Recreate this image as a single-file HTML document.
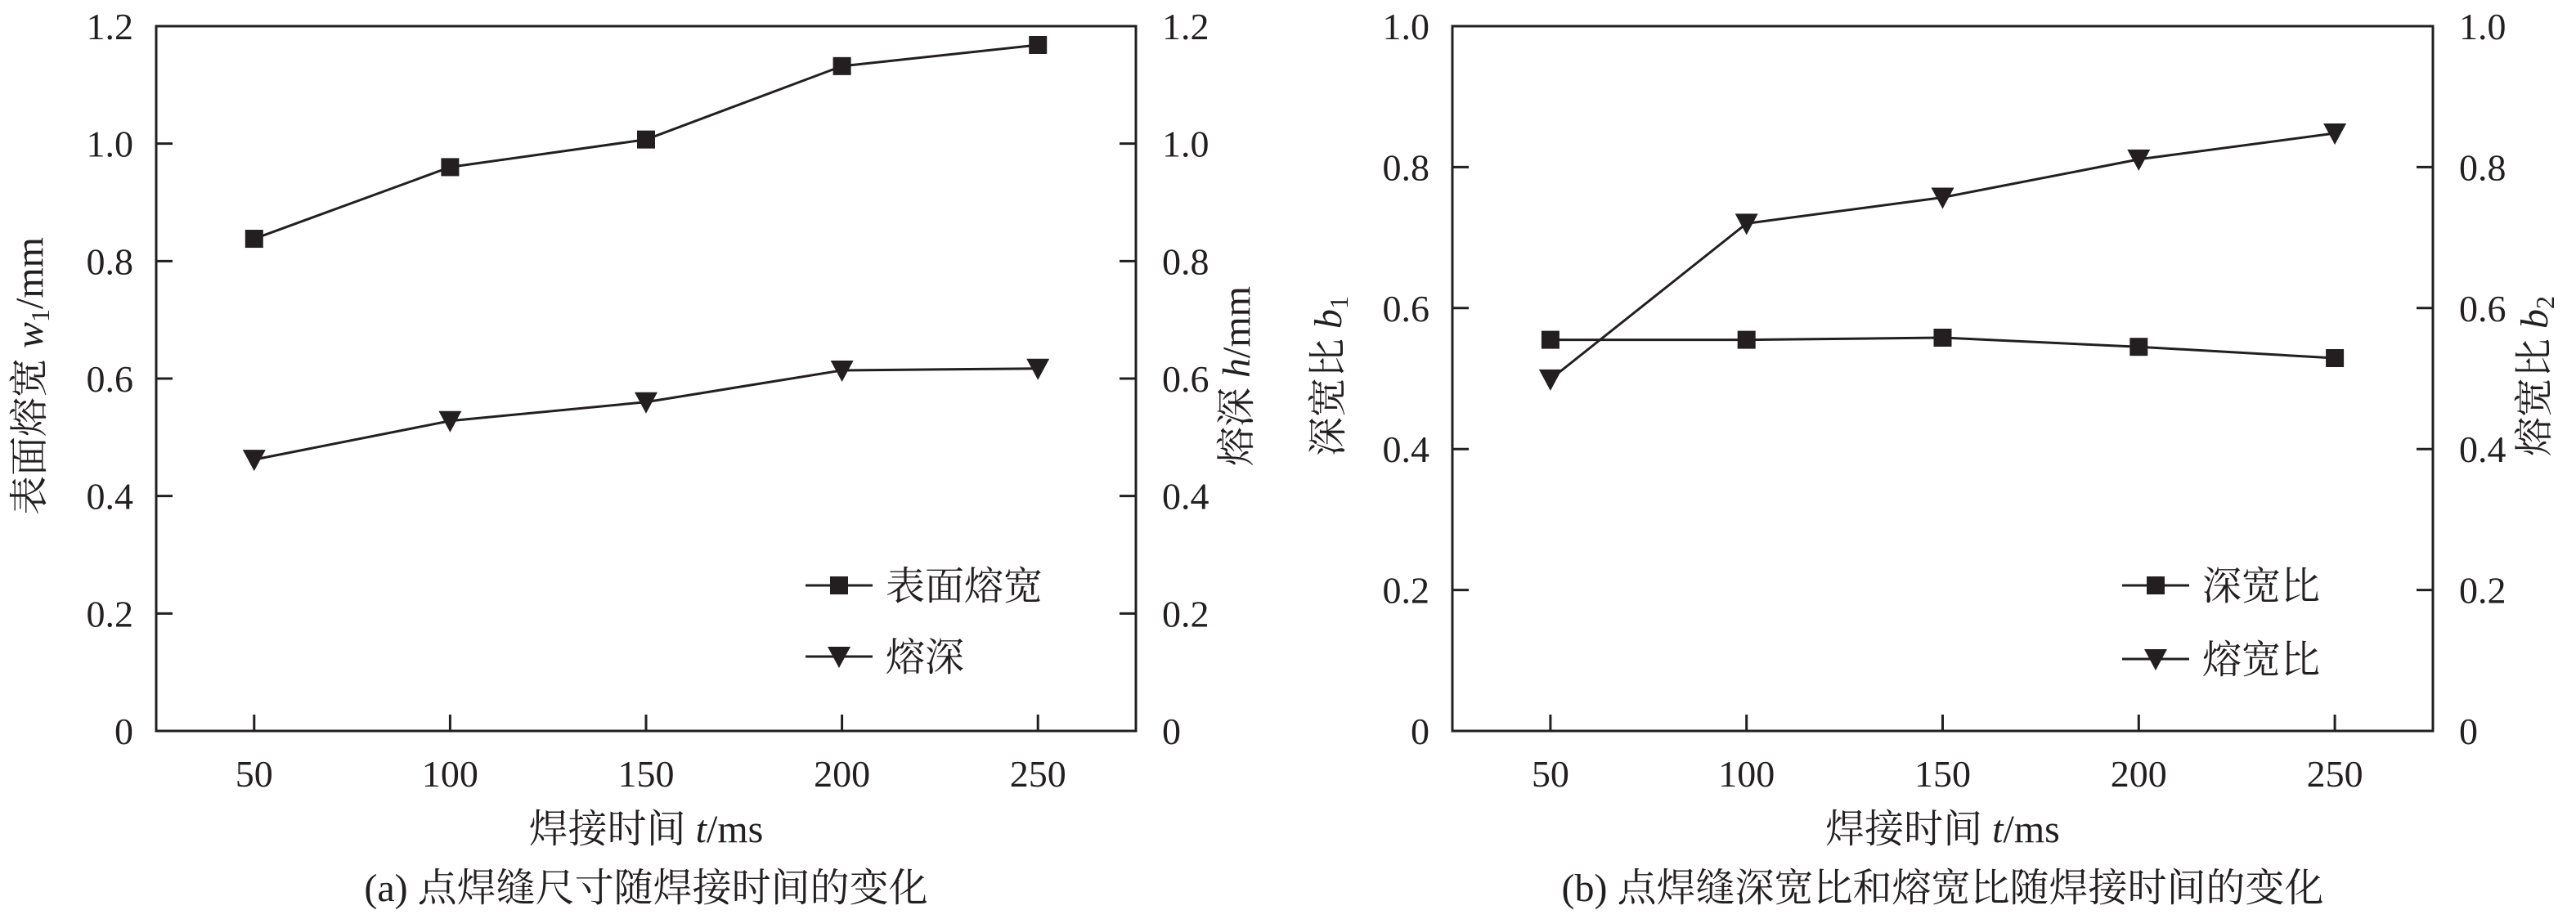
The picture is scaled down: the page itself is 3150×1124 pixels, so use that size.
<!DOCTYPE html>
<html><head><meta charset="utf-8"><style>
html,body{margin:0;padding:0;background:#fff}
svg{display:block}
text{font-family:"Liberation Serif","Noto Serif CJK SC","Noto Sans CJK SC",serif;fill:#231f20}
</style></head><body>
<svg id="chart" width="3150" height="1124" viewBox="0 0 3150 1124" xmlns="http://www.w3.org/2000/svg">
<rect width="3150" height="1124" fill="#fff"/>
</svg>
<script>
const categories = [50, 100, 150, 200, 250];
const xTicks = [50, 100, 150, 200, 250];
const yTicksA = [0, 0.2, 0.4, 0.6, 0.8, 1.0, 1.2];
const yTicksB = [0, 0.2, 0.4, 0.6, 0.8, 1.0];
const widthSeries = [0.838, 0.960, 1.007, 1.132, 1.168];
const depthSeries = [0.462, 0.528, 0.560, 0.614, 0.617];
const ratio1Series = [0.555, 0.555, 0.558, 0.545, 0.529];
const ratio2Series = [0.499, 0.720, 0.757, 0.811, 0.848];

const NS = 'http://www.w3.org/2000/svg';
const svg = document.getElementById('chart');
function mk(tag, attrs, parent) {
  const e = document.createElementNS(NS, tag);
  for (const k in attrs) e.setAttribute(k, attrs[k]);
  (parent || svg).appendChild(e);
  return e;
}
function fmt(v){ return v === 0 ? '0' : v.toFixed(1); }

function panel(cfg) {
  const g = mk('g', {});
  
  
  const L = cfg.left, R = cfg.right, T = 32, B = 894;
  const xs = v => L + (v - 25) / 250 * (R - L);
  const ys = v => B - v / cfg.ymax * (B - T);
  const frame = mk('rect', {x: L, y: T, width: R - L, height: B - T, fill: 'none', stroke: '#231f20', 'stroke-width': 3}, g);
  
  
  xTicks.forEach(v => {
    const x = xs(v);
    const t = mk('line', {x1: x, x2: x, y1: B, y2: B - 20, stroke: '#231f20', 'stroke-width': 3}, g);
    
    
    const lb = mk('text', {x: x, y: 962, 'font-size': 46, 'text-anchor': 'middle'}, g);
    
    
    lb.textContent = v;
  });
  cfg.yTicks.forEach(v => {
    const y = ys(v);
    const t1 = mk('line', {x1: L, x2: L + 20, y1: y, y2: y, stroke: '#231f20', 'stroke-width': 3}, g);
    
    
    const t2 = mk('line', {x1: R, x2: R - 20, y1: y, y2: y, stroke: '#231f20', 'stroke-width': 3}, g);
    
    
    const l1 = mk('text', {x: L - 28, y: y + 16, 'font-size': 46, 'text-anchor': 'end'}, g);
    
    
    l1.textContent = fmt(v);
    const l2 = mk('text', {x: R + 32, y: y + 16, 'font-size': 46, 'text-anchor': 'start'}, g);
    
    
    l2.textContent = fmt(v);
  });
  cfg.series.forEach(s => {
    const pts = categories.map((c, i) => xs(c) + ',' + ys(s.values[i])).join(' ');
    const pl = mk('polyline', {points: pts, fill: 'none', stroke: '#231f20', 'stroke-width': 3}, g);
    
    
    categories.forEach((c, i) => {
      const m = marker(s.marker, xs(c), ys(s.values[i]), g);
      
      
    });
  });
  // legend
  cfg.series.forEach((s, i) => {
    const y = cfg.legY[i];
    const lg = mk('g', {}, g);
    
    
    mk('line', {x1: cfg.legX, x2: cfg.legX + 82, y1: y, y2: y, stroke: '#231f20', 'stroke-width': 3}, lg);
    marker(s.marker, cfg.legX + 41, y, lg);
    const t = mk('text', {x: cfg.legX + 98, y: y + 17, 'font-size': 48}, lg);
    t.textContent = s.label;
  });
  // titles
  const xt = mk('text', {x: (L + R) / 2, y: 1030, 'font-size': 48, 'text-anchor': 'middle'}, g);
  
  
  xt.innerHTML = '焊接时间 <tspan font-style="italic">t</tspan>/ms';
  const cap = mk('text', {x: (L + R) / 2, y: 1102, 'font-size': 48, 'text-anchor': 'middle'}, g);
  
  
  cap.textContent = cfg.caption;
  const yl = mk('text', {x: 0, y: 0, 'font-size': 48, 'text-anchor': 'middle', transform: `translate(${cfg.ylx},460) rotate(-90)`}, g);
  
  
  yl.innerHTML = cfg.ylLabel;
  const yr = mk('text', {x: 0, y: 0, 'font-size': 48, 'text-anchor': 'middle', transform: `translate(${cfg.yrx},460) rotate(-90)`}, g);
  
  
  yr.innerHTML = cfg.yrLabel;
}
function marker(type, x, y, parent) {
  if (type === 'square') return mk('rect', {x: x - 11, y: y - 11, width: 22, height: 22, fill: '#231f20'}, parent);
  return mk('polygon', {points: `${x - 14},${y - 12} ${x + 14},${y - 12} ${x},${y + 14}`, fill: '#231f20'}, parent);
}
panel({name: 'panel-a', left: 191, right: 1389, ymax: 1.2, yTicks: yTicksA,
  series: [{name: 'surface-width', label: '表面熔宽', values: widthSeries, marker: 'square'},
           {name: 'depth', label: '熔深', values: depthSeries, marker: 'tri'}],
  legX: 985, legY: [716, 803], ylx: 52, yrx: 1528,
  ylLabel: '表面熔宽 <tspan font-style="italic">w</tspan><tspan font-size="32" dy="8">1</tspan><tspan dy="-8">/mm</tspan>',
  yrLabel: '熔深 <tspan font-style="italic">h</tspan>/mm',
  caption: '(a) 点焊缝尺寸随焊接时间的变化'});
panel({name: 'panel-b', left: 1776, right: 2975, ymax: 1.0, yTicks: yTicksB,
  series: [{name: 'depth-width-ratio', label: '深宽比', values: ratio1Series, marker: 'square'},
           {name: 'melt-width-ratio', label: '熔宽比', values: ratio2Series, marker: 'tri'}],
  legX: 2595, legY: [716, 806], ylx: 1640, yrx: 3115,
  ylLabel: '深宽比 <tspan font-style="italic">b</tspan><tspan font-size="32" dy="8">1</tspan>',
  yrLabel: '熔宽比 <tspan font-style="italic">b</tspan><tspan font-size="32" dy="8">2</tspan>',
  caption: '(b) 点焊缝深宽比和熔宽比随焊接时间的变化'});
</script>
</body></html>
